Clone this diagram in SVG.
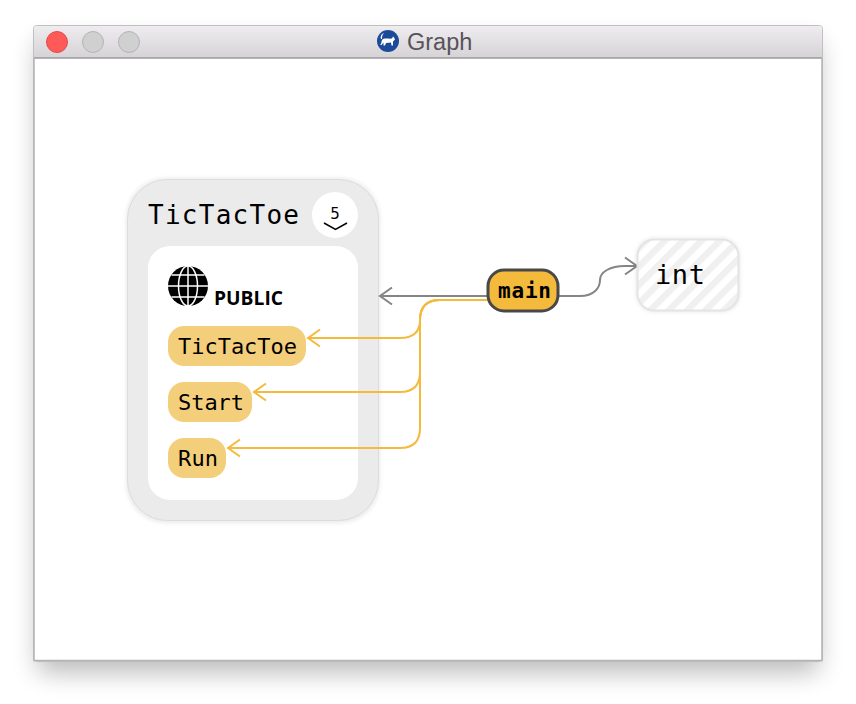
<svg xmlns="http://www.w3.org/2000/svg" width="856" height="704" viewBox="0 0 856 704">
<style>
.mono{font-family:"DejaVu Sans Mono","Liberation Mono",monospace;fill:#000}
.m{font-size:22px}
.member{fill:#f4cf7b}
.y{fill:none;stroke:#f4ba3c;stroke-width:2}
.g{fill:none;stroke:#858585;stroke-width:2}
.btn{fill:#d0d0d0;stroke:#b4b4b4;stroke-width:1}
</style>
<defs>
<linearGradient id="bar" x1="0" y1="0" x2="0" y2="1"><stop offset="0" stop-color="#efecf0"/><stop offset="1" stop-color="#d6d3d7"/></linearGradient>
<filter id="win" x="-10%" y="-10%" width="120%" height="125%"><feGaussianBlur stdDeviation="13"/></filter>
<filter id="soft" x="-10%" y="-10%" width="120%" height="120%"><feGaussianBlur stdDeviation="2"/></filter>
<pattern id="hatch" width="13" height="13" patternUnits="userSpaceOnUse" patternTransform="rotate(45)"><rect width="13" height="13" fill="#fff"/><rect width="6.500" height="13" fill="#f0f0f0"/></pattern>
<marker id="ay" markerWidth="16" markerHeight="20" refX="14" refY="10" orient="auto" markerUnits="userSpaceOnUse"><path d="M2 1.500L14 10L2 18.500" fill="none" stroke="#f4ba3c" stroke-width="2"/></marker>
<marker id="ag" markerWidth="16" markerHeight="20" refX="14" refY="10" orient="auto" markerUnits="userSpaceOnUse"><path d="M2 1.500L14 10L2 18.500" fill="none" stroke="#858585" stroke-width="2"/></marker>
</defs>
<rect x="38" y="42" width="780" height="630" fill="#000" opacity=".28" filter="url(#win)"/>
<g id="window">
<rect x="33.500" y="25.500" width="789" height="636" rx="3" fill="#fff" stroke="#c0c0c0"/>
<path d="M34 58V29a3 3 0 0 1 3-3H819a3 3 0 0 1 3 3V58Z" fill="url(#bar)"/>
<path d="M34 58H822" stroke="#9c9a9c" stroke-width="1.500"/>
<path d="M34 59V660.500H822V59" fill="none" stroke="#b4b4b4" stroke-width="1.500"/>
<circle cx="57" cy="42" r="10.500" fill="#fd5a58" stroke="#e5494a"/>
<circle class="btn" cx="93" cy="42" r="10.500"/>
<circle class="btn" cx="129" cy="42" r="10.500"/>
<circle cx="388" cy="41" r="11" fill="#1c4a9a"/>
<path d="M380 45c2-1 1-5 3-6 3-1 6 0 9-.5l1-2 1 1 1 2-2 2v4h-1.500l-.5-3-5 .5-1 2.500h-1.500v-3l-2 2.500Z M381 39c-1-2 0-5 3-6-2 2-2 4-2 6Z" fill="#fff"/>
<text x="407" y="50" font-family="'Liberation Sans',Arial,sans-serif" font-size="23.500" fill="#58525a">Graph</text>
</g>
<g id="TicTacToe-class">
<rect x="126" y="178" width="254" height="345" rx="40" fill="#000" opacity=".08" filter="url(#soft)"/>
<rect x="127.500" y="179.500" width="251" height="341" rx="40" fill="#ebebeb" stroke="#dcdcdc"/>
<text class="mono" x="148" y="224" font-size="26" textLength="151" lengthAdjust="spacing">TicTacToe</text>
<circle cx="335" cy="215" r="23" fill="#fff"/>
<text x="335" y="219" text-anchor="middle" font-family="'DejaVu Sans','Liberation Sans',sans-serif" font-size="15" fill="#000">5</text>
<path d="M324 223L335.500 229.500L347 223" fill="none" stroke="#000" stroke-width="1.500"/>
<rect x="148" y="246" width="210" height="254" rx="22" fill="#fff"/>
</g>
<g id="public-section">
<circle cx="188" cy="286" r="20" fill="#000"/>
<g fill="none" stroke="#fff" stroke-width="1.500">
<ellipse cx="188" cy="286" rx="9.500" ry="20"/>
<path d="M188 266V306M168 286H208M171.500 275H204.500M171.500 297H204.500"/>
</g>
<text x="214" y="305" font-family="'Open Sans','Noto Sans',sans-serif" font-size="20" font-weight="700" fill="#000" textLength="69" lengthAdjust="spacingAndGlyphs">PUBLIC</text>
</g>
<g id="member-TicTacToe">
<rect class="member" x="168" y="326" width="138" height="40" rx="16"/>
<text class="mono m" x="178" y="354" textLength="119">TicTacToe</text>
</g>
<g id="member-Start">
<rect class="member" x="168" y="382" width="84" height="40" rx="16"/>
<text class="mono m" x="178" y="410" textLength="66">Start</text>
</g>
<g id="member-Run">
<rect class="member" x="168" y="438" width="58" height="40" rx="16"/>
<text class="mono m" x="178" y="466" textLength="40">Run</text>
</g>
<g id="connectors">
<path class="y" d="M488 300H440Q420 300 420 320Q420 338 400 338H308" marker-end="url(#ay)"/>
<path class="y" d="M488 300H440Q420 300 420 320V372Q420 392 400 392H254" marker-end="url(#ay)"/>
<path class="y" d="M488 300H440Q420 300 420 320V428Q420 448 400 448H228" marker-end="url(#ay)"/>
<path class="g" d="M488 296H380" marker-end="url(#ag)"/>
<path class="g" d="M558 296H580C594 296 600 288 600 280C600 272 610 266 625 266H637" marker-end="url(#ag)"/>
</g>
<g id="main">
<rect x="488" y="270" width="70" height="41" rx="16" fill="#f4ba3c" stroke="#484848" stroke-width="3"/>
<text class="mono" x="498" y="298" font-size="21" font-weight="700" textLength="53">main</text>
</g>
<g id="int">
<rect x="636" y="238" width="104" height="74" rx="18" fill="#000" opacity=".08" filter="url(#soft)"/>
<rect x="637.500" y="239.500" width="101" height="71" rx="17" fill="url(#hatch)" stroke="#e4e4e4" stroke-width="2"/>
<text class="mono" x="655" y="284" font-size="27" textLength="50">int</text>
</g>
</svg>
